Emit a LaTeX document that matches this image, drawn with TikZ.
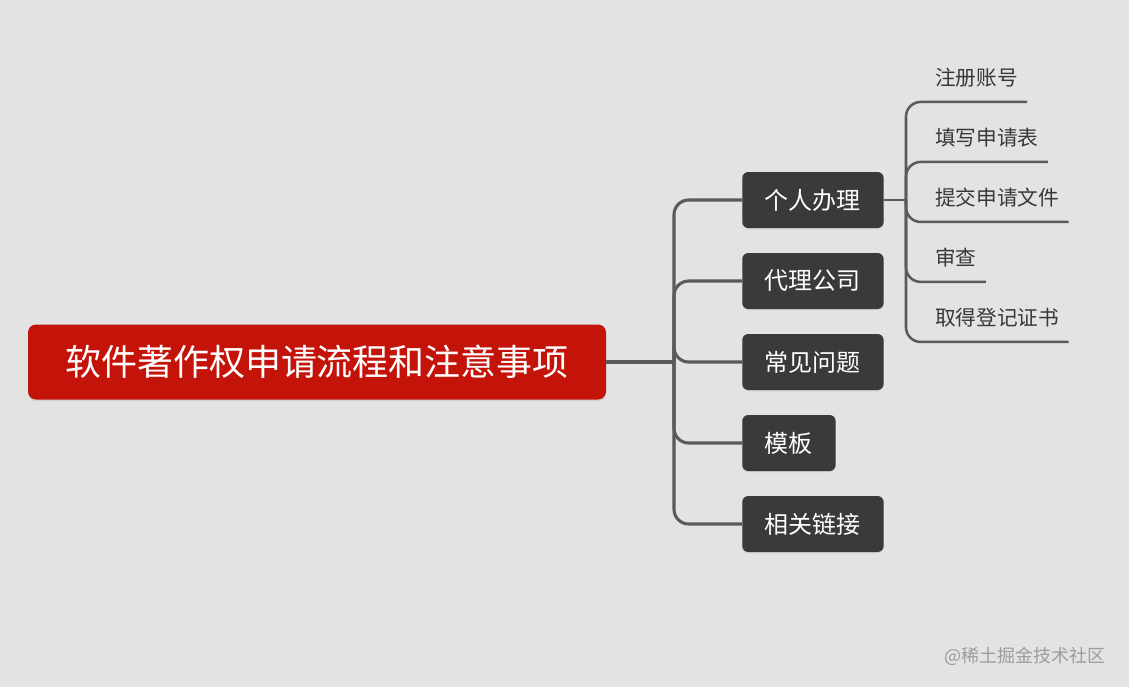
\documentclass[tikz,border=0pt]{standalone}
\usepackage{fontspec}
\setmainfont{Noto Sans CJK SC}
\usetikzlibrary{shadows}
\definecolor{bggray}{HTML}{E3E3E3}
\definecolor{rootred}{HTML}{C41409}
\definecolor{boxdark}{HTML}{3A3A38}
\definecolor{linegray}{HTML}{5A5A5A}
\definecolor{itemtext}{HTML}{383838}
\definecolor{marktext}{HTML}{9C9C9C}
\begin{document}
\begin{tikzpicture}[x=0.75pt,y=-0.75pt]
  \tikzstyle{root}=[fill=rootred, text=white, rounded corners=6pt,
    minimum width=433.5pt, minimum height=56.25pt, font=\fontsize{27}{30}\selectfont,
    drop shadow={opacity=0.18, shadow xshift=0pt, shadow yshift=-1.2pt}]
  \tikzstyle{topic}=[fill=boxdark, text=white, rounded corners=4.5pt, anchor=west,
    inner xsep=17pt, minimum height=42pt, font=\fontsize{18}{20}\selectfont,
    drop shadow={opacity=0.15, shadow xshift=0pt, shadow yshift=-1pt}]
  \tikzstyle{item}=[text=itemtext, anchor=west, inner xsep=6.75pt, inner ysep=0pt,
    minimum height=35.5pt, font=\fontsize{15.5}{17}\selectfont]
  \tikzstyle{link}=[draw=linegray, line width=2.3pt, rounded corners=11pt]
  \tikzstyle{sublink}=[draw=linegray, line width=1.9pt, rounded corners=11pt]
  % background and page size
  \fill[bggray] (0,0) rectangle (1129,687);
  \useasboundingbox (0,0) rectangle (1129,687);
  % central topic
  \node[root] (main) at (317,362) {软件著作权申请流程和注意事项};
  % main branches
  \node[topic] (personal) at (742,200) {个人办理};
  \node[topic] (agency) at (742,281) {代理公司};
  \node[topic] (faq) at (742,362) {常见问题};
  \node[topic] (template) at (742,443) {模板};
  \node[topic] (links) at (742,524) {相关链接};
  \coordinate (mhub) at (674,362);
  \draw[link] (main.east) -- (mhub);
  \foreach \n in {personal,agency,faq,template,links}
    \draw[link] (mhub) |- (\n.west);
  % steps of personal
  \node[item] (register) at (926,78) {注册账号};
  \node[item] (form) at (926,138) {填写申请表};
  \node[item] (submit) at (926,198) {提交申请文件};
  \node[item] (review) at (926,258) {审查};
  \node[item] (certificate) at (926,318) {取得登记证书};
  \coordinate (phub) at (906,200);
  \draw[sublink] (personal.east) -- (phub);
  \foreach \n in {register,form,submit,review,certificate}
    \draw[sublink] (phub) |- (\n.south east);
  % watermark
  \node[text=marktext, anchor=east, font=\fontsize{13.5}{15}\selectfont] (mark) at (1110,656) {@稀土掘金技术社区};
\end{tikzpicture}
\end{document}
